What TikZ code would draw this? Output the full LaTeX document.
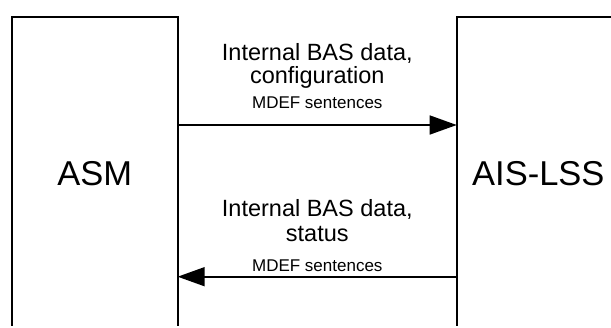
\documentclass[tikz,border=0pt]{standalone}
\usepackage{fontspec}
\setmainfont{Liberation Sans}
\usetikzlibrary{arrows.meta}
\begin{document}
\begin{tikzpicture}[x=1pt,y=-1pt,
  boxline/.style={draw=black,line width=1.6pt,inner sep=0pt,outer sep=0pt},
  bigtxt/.style={anchor=base,inner sep=0pt,font=\fontsize{34.5}{40}\selectfont},
  midtxt/.style={anchor=base,inner sep=0pt,font=\fontsize{23.5}{27}\selectfont},
  smalltxt/.style={anchor=base,inner sep=0pt,font=\fontsize{17}{20}\selectfont},
  flow/.style={line width=1.6pt,-{Triangle[length=27pt,width=19pt]}}]
\useasboundingbox (0,0) rectangle (611,327);
\begin{scope}
\clip (0,0) rectangle (611,325.5);
\node[boxline,minimum width=166pt,minimum height=400pt] (asm) at (94.7,217) {};
\node[boxline,minimum width=170pt,minimum height=400pt] (ais) at (541.7,217) {};
\end{scope}
\node[bigtxt] (asmlabel) at (94.7,185.7) {ASM};
\node[bigtxt] (aislabel) at (538.3,185.7) {AIS-LSS};
\coordinate (yu) at (0,125);
\coordinate (yl) at (0,276.7);
\draw[flow] (asm.east |- yu) -- (ais.west |- yu);
\draw[flow] (ais.west |- yl) -- (asm.east |- yl);
\node[midtxt] (t1) at (317.3,60) {Internal BAS data,};
\node[midtxt] (t2) at (317.3,83.3) {configuration};
\node[smalltxt] (t3) at (317.3,108.3) {MDEF sentences};
\node[midtxt] (t4) at (317.3,216.7) {Internal BAS data,};
\node[midtxt] (t5) at (317.3,241.7) {status};
\node[smalltxt] (t6) at (317.3,271.7) {MDEF sentences};
\end{tikzpicture}
\end{document}
